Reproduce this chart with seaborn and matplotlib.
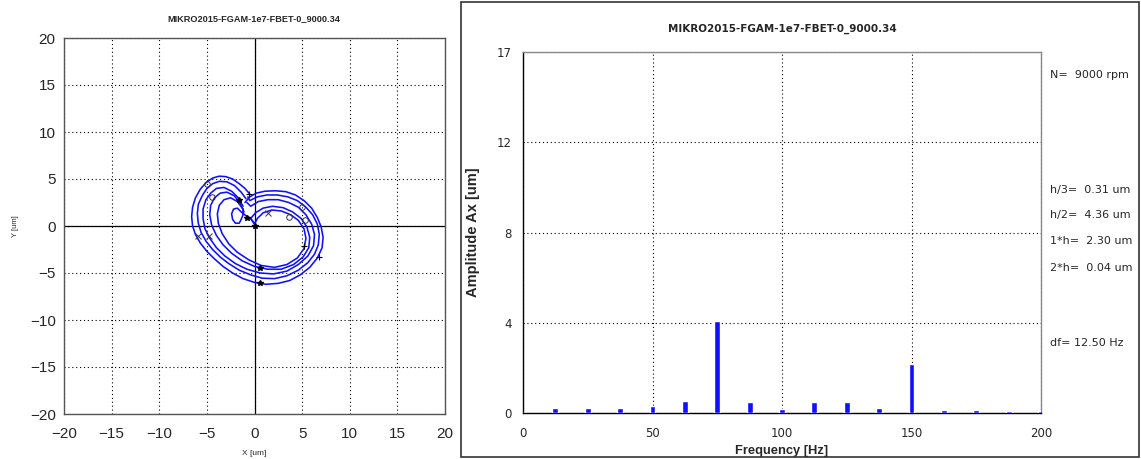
import matplotlib
matplotlib.use("Agg")
import matplotlib.pyplot as plt
import seaborn as sns
import pandas as pd
from matplotlib.patches import Rectangle

sns.set_theme(style="white")
plt.rcParams['font.family'] = ['Liberation Sans', 'DejaVu Sans']

# ---------------- data ----------------
title_text = "MIKRO2015-FGAM-1e7-FBET-0_9000.34"

# orbit traces, um
inner_x = [0.1, 0.0, -0.4, -0.9, -1.4, -1.8, -2.2, -2.4, -2.3, -2.0, -1.6, -1.4, -1.2, -1.2]
inner_y = [-0.3, 0.3, 0.8, 1.1, 1.5, 1.9, 1.8, 1.3, 0.7, 0.3, 0.3, 0.7, 1.2, 1.8]
loop_e_x = [-1.2, -1.8, -2.5, -3.2, -3.7, -3.9, -3.8, -3.4, -2.7, -1.8, -0.6, 0.7, 2.1, 3.4, 4.5, 5.2, 5.4, 5.2, 4.6, 3.8, 2.8, 1.8, 0.9, 0.3, 0.0, -0.5]
loop_e_y = [1.8, 2.6, 3.0, 2.8, 2.2, 1.3, 0.3, -0.8, -1.9, -2.8, -3.6, -4.2, -4.4, -4.1, -3.4, -2.4, -1.3, -0.3, 0.6, 1.2, 1.6, 1.7, 1.4, 0.8, 0.2, 0.9]
loop_d_x = [-1.1, -1.5, -2.1, -2.9, -3.6, -4.2, -4.6, -4.7, -4.5, -4.0, -3.3, -2.4, -1.3, 0.0, 1.4, 2.8, 4.1, 5.1, 5.7, 5.8, 5.5, 4.9, 4.0, 3.0, 1.9, 0.9, 0.1, -0.4]
loop_d_y = [1.5, 2.4, 3.2, 3.6, 3.5, 3.0, 2.2, 1.2, 0.1, -1.0, -2.0, -2.9, -3.7, -4.3, -4.6, -4.6, -4.1, -3.3, -2.3, -1.2, -0.1, 0.8, 1.5, 1.95, 2.1, 1.9, 1.4, 0.8]
loop_c_x = [-1.2, -1.7, -2.4, -3.2, -4.0, -4.6, -5.1, -5.4, -5.4, -5.2, -4.7, -4.0, -3.1, -2.0, -0.8, 0.6, 2.0, 3.4, 4.6, 5.6, 6.2, 6.3, 6.0, 5.4, 4.6, 3.6, 2.5, 1.4, 0.4, -0.4, -0.8]
loop_c_y = [2.1, 3.0, 3.7, 4.1, 4.0, 3.5, 2.8, 1.8, 0.8, -0.3, -1.3, -2.3, -3.2, -4.0, -4.6, -5.0, -5.1, -4.8, -4.1, -3.2, -2.1, -0.9, 0.2, 1.2, 2.0, 2.5, 2.8, 2.8, 2.6, 2.1, 2.5]
loop_b_x = [-0.9, -1.4, -2.1, -2.9, -3.7, -4.4, -5.0, -5.5, -5.9, -6.0, -5.9, -5.6, -5.1, -4.4, -3.6, -2.7, -1.6, -0.4, 0.8, 2.1, 3.4, 4.6, 5.6, 6.3, 6.7, 6.8, 6.6, 6.1, 5.4, 4.5, 3.5, 2.4, 1.3, 0.3, -0.5, -0.7]
loop_b_y = [2.9, 3.6, 4.3, 4.7, 4.75, 4.5, 4.0, 3.2, 2.3, 1.3, 0.3, -0.7, -1.6, -2.5, -3.3, -4.0, -4.7, -5.2, -5.55, -5.6, -5.3, -4.7, -3.9, -3.0, -2.0, -0.9, 0.2, 1.2, 2.0, 2.7, 3.1, 3.3, 3.3, 3.1, 2.7, 3.1]
loop_a_x = [-0.5, -1.0, -1.6, -2.3, -3.0, -3.7, -4.4, -5.1, -5.7, -6.2, -6.5, -6.6, -6.5, -6.2, -5.7, -5.0, -4.2, -3.3, -2.3, -1.2, 0.0, 1.2, 2.5, 3.7, 4.8, 5.8, 6.6, 7.1, 7.2, 7.0, 6.6, 6.0, 5.2, 4.3, 3.3, 2.2, 1.1, 0.2, -0.5, -1.0]
loop_a_y = [3.4, 4.0, 4.5, 5.0, 5.25, 5.3, 5.1, 4.6, 3.9, 3.0, 2.0, 1.0, 0.0, -0.9, -1.8, -2.7, -3.5, -4.3, -5.0, -5.6, -6.0, -6.2, -6.1, -5.8, -5.2, -4.4, -3.4, -2.3, -1.2, -0.1, 0.9, 1.9, 2.7, 3.3, 3.65, 3.75, 3.7, 3.5, 3.1, 2.5]

# orbit markers
star_x = [0.0, -0.8, -1.6, 0.6, 0.6]
star_y = [0.0, 0.9, 2.8, -4.5, -6.1]
circ_x = [-5.0, -4.5, 3.6, 5.3, 5.0]
circ_y = [4.5, 3.1, 1.0, 0.6, 2.0]
cross_x = [-5.9, -4.8, 1.4]
cross_y = [-1.1, -1.1, 1.4]
plus_x = [-0.6, 5.2, 6.8]
plus_y = [3.4, -2.1, -3.3]

# spectrum
freq = [0, 12.5, 25, 37.5, 50, 62.5, 75, 87.5, 100, 112.5, 125, 137.5, 150, 162.5, 175, 187.5, 200]
amp = [0.02, 0.21, 0.21, 0.24, 0.31, 0.54, 4.09, 0.50, 0.18, 0.50, 0.50, 0.24, 2.18, 0.13, 0.13, 0.10, 0.10]

orbit_ticks = [-20, -15, -10, -5, 0, 5, 10, 15, 20]
spec_xticks = [0, 50, 100, 150, 200]
spec_yticks = [0, 4, 8, 12, 16]
spec_yticklabels = ["0", "4", "8", "12", "17"]
info_lines = ["N=  9000 rpm", "h/3=  0.31 um", "h/2=  4.36 um", "1*h=  2.30 um", "2*h=  0.04 um", "df= 12.50 Hz"]
info_ypix = [75, 190, 215, 241, 268, 343]

# ---------------- figure ----------------
W, H = 1141, 459
fig = plt.figure(figsize=(W / 100, H / 100), dpi=100)
fig.patch.set_facecolor("white")

def fx(px):
    return px / W

def fy(py):
    return 1 - py / H

blue = "#1010ff"
dot = (0, (1, 2.5))

# ---- left orbit ----
ax1 = fig.add_axes([fx(64), fy(414), fx(445) - fx(64), fy(38) - fy(414)])
ax1.set_facecolor("white")
for lx, ly in [(inner_x, inner_y), (loop_e_x, loop_e_y), (loop_d_x, loop_d_y),
               (loop_c_x, loop_c_y), (loop_b_x, loop_b_y), (loop_a_x, loop_a_y)]:
    sns.lineplot(x=lx, y=ly, sort=False, estimator=None, color=blue, lw=1.15, ax=ax1)
ax1.plot(star_x, star_y, ls="none", marker="*", ms=4, color="black", zorder=5)
ax1.plot(circ_x, circ_y, ls="none", marker="o", ms=4, mfc="none", mec="#333333", mew=0.7, zorder=5)
ax1.plot(cross_x, cross_y, ls="none", marker="x", ms=4, color="#333333", mew=0.7, zorder=5)
ax1.plot(plus_x, plus_y, ls="none", marker="+", ms=5, color="black", mew=0.8, zorder=5)
ax1.axhline(0, color="black", lw=0.9, zorder=1)
ax1.axvline(0, color="black", lw=0.9, zorder=1)
ax1.set_xlim(-20, 20)
ax1.set_ylim(-20, 20)
ax1.set_xticks(orbit_ticks)
ax1.set_yticks(orbit_ticks)
ax1.grid(True, color="black", lw=0.8, linestyle=dot)
ax1.tick_params(length=0, labelsize=11, pad=6)
ax1.tick_params(axis="x", pad=9)
for s in ax1.spines.values():
    s.set_color("#555555")
    s.set_linewidth(1.0)
ax1.set_xlabel("X [um]", fontsize=6, labelpad=7)
ax1.set_ylabel("Y [um]", fontsize=5.5, labelpad=8)
fig.text(fx(254), fy(19), title_text, ha="center", va="center", fontsize=6.6, fontweight="bold")

# ---- right frame ----
fig.patches.append(Rectangle((fx(461), fy(457)), fx(1139) - fx(461), fy(2) - fy(457),
                             transform=fig.transFigure, fill=False, ec="#333333", lw=1.2))

# ---- right spectrum ----
ax2 = fig.add_axes([fx(523), fy(413), fx(1041) - fx(523), fy(52) - fy(413)])
df = pd.DataFrame({"freq": freq, "amp": amp})
sns.barplot(data=df, x="freq", y="amp", native_scale=True, width=0.18,
            color=blue, saturation=1, errorbar=None, ax=ax2, zorder=3)
ax2.set_xlim(0, 200)
ax2.set_ylim(0, 16)
ax2.set_xticks(spec_xticks)
ax2.set_xticklabels([str(v) for v in spec_xticks])
ax2.set_yticks(spec_yticks)
ax2.set_yticklabels(spec_yticklabels)
for lab in ax2.get_xticklabels() + ax2.get_yticklabels():
    lab.set_fontfamily("DejaVu Sans")
ax2.grid(True, color="black", lw=0.8, linestyle=dot)
ax2.tick_params(length=0, labelsize=8.5, pad=10)
ax2.tick_params(axis="y", pad=8)
ax2.spines["left"].set_color("black")
ax2.spines["bottom"].set_color("black")
ax2.spines["top"].set_color("#888888")
ax2.spines["right"].set_color("#888888")
for s in ax2.spines.values():
    s.set_linewidth(1.0)
ax2.set_xlabel("Frequency [Hz]", fontsize=9.3, fontweight="bold", labelpad=4)
ax2.set_ylabel("Amplitude Ax [um]", fontsize=10.5, fontweight="bold", labelpad=12)
fig.text(fx(782), fy(29), title_text, ha="center", va="center", fontsize=7.5,
         fontweight="bold", family="DejaVu Sans")

for txt, yp in zip(info_lines, info_ypix):
    fig.text(fx(1050), fy(yp), txt, ha="left", va="center", fontsize=8, family="DejaVu Sans")

fig.savefig("out.png", dpi=100, facecolor="white")
